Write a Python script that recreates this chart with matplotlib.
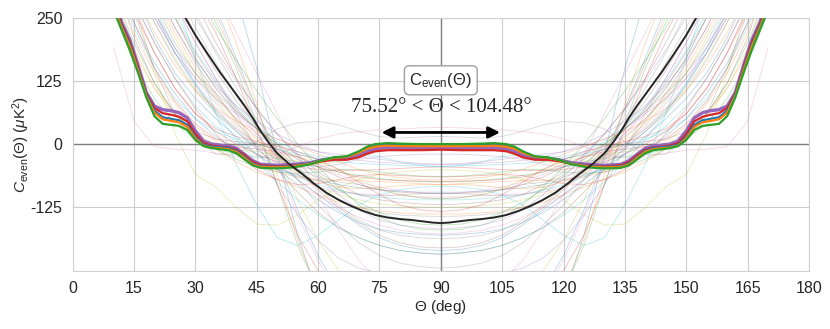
import numpy as np
import matplotlib
matplotlib.use("Agg")
import matplotlib.pyplot as plt
import seaborn as sns

sns.set_style("whitegrid")
plt.rcParams['font.family'] = ['Liberation Sans', 'DejaVu Sans']
plt.rcParams['mathtext.fontset'] = 'custom'
plt.rcParams['mathtext.rm'] = 'Liberation Sans'
plt.rcParams['mathtext.it'] = 'Liberation Sans:italic'
plt.rcParams['axes.unicode_minus'] = False

# angle grid for the highlighted curves (deg)
theta_c = [6, 8, 10, 12, 14, 16, 18, 20, 22, 24, 26, 28, 30, 32, 34, 36, 38, 40, 42, 44, 46,
           50, 54, 58, 61, 64, 67, 70, 72, 74, 77, 80, 85, 90, 95, 100, 103, 106, 108, 110,
           113, 116, 119, 122, 126, 130, 134, 136, 138, 140, 142, 144, 146, 148, 150, 152,
           154, 156, 158, 160, 162, 164, 166, 168, 170, 172, 174]

c_purple = [420, 350, 290, 240, 205, 155, 102, 75, 68, 66, 62, 52, 26, 6, 0, -2, -4, -8, -20, -33, -40,
            -42, -40, -37, -31, -28, -28, -22, -14, -9, -7, -8, -9, -8,
            -9, -8, -7, -9, -14, -22, -28, -28, -31, -37, -40, -42,
            -40, -33, -20, -8, -4, -2, 0, 6, 26, 52, 62, 66, 68, 75, 102, 155, 205, 240, 290, 350, 420]
c_red = [412, 345, 285, 236, 200, 151, 100, 71, 61, 58, 54, 45, 20, 2, -3, -5, -7, -11, -22, -35, -42,
         -44, -42, -39, -34, -31, -31, -26, -19, -14, -12, -12, -12, -11,
         -12, -12, -12, -14, -19, -26, -31, -31, -34, -39, -42, -44,
         -42, -35, -22, -11, -7, -5, -3, 2, 20, 45, 54, 58, 61, 71, 100, 151, 200, 236, 285, 345, 412]
c_blue = [405, 338, 278, 233, 196, 148, 98, 66, 53, 50, 47, 38, 14, -1, -5, -6, -8, -13, -25, -38, -44,
          -45, -43, -38, -31, -27, -25, -16, -7, -3, -2, -2, -2, -2,
          -2, -2, -2, -3, -7, -16, -25, -27, -31, -38, -43, -45,
          -44, -38, -25, -13, -8, -6, -5, -1, 14, 38, 47, 50, 53, 66, 98, 148, 196, 233, 278, 338, 405]
c_orange = [400, 330, 272, 230, 192, 145, 95, 62, 49, 46, 43, 34, 11, -3, -7, -8, -10, -15, -27, -40, -45,
            -46, -44, -39, -32, -27, -25, -17, -9, -5, -3, -4, -4, -4,
            -4, -4, -3, -5, -9, -17, -25, -27, -32, -39, -44, -46,
            -45, -40, -27, -15, -10, -8, -7, -3, 11, 34, 43, 46, 49, 62, 95, 145, 192, 230, 272, 330, 400]
c_green = [390, 320, 265, 225, 185, 140, 92, 55, 40, 38, 36, 28, 8, -4, -8, -10, -12, -18, -30, -42, -47,
           -48, -46, -40, -32, -26, -24, -14, -5, 0, 2, 1, 0, 0,
           0, 1, 2, 0, -5, -14, -24, -26, -32, -40, -46, -48,
           -47, -42, -30, -18, -12, -10, -8, -4, 8, 28, 36, 38, 40, 55, 92, 140, 185, 225, 265, 320, 390]

# black curve
theta_k = [25, 27.5, 30, 33, 36, 38, 40, 42, 44, 46, 48, 50, 53, 56, 59, 62, 65, 68, 71, 74, 77, 80,
           83, 86, 88, 90, 92, 94, 97, 100, 103, 106, 109, 112, 115, 118, 121, 124, 127, 130,
           132, 134, 136, 138, 140, 142, 144, 147, 150, 152.5, 155]
c_black = [290, 250, 215, 178, 142, 120, 98, 76, 52, 25, 2, -18, -40, -58, -78, -96, -110, -122, -132,
           -140, -145, -148, -150, -153, -155, -156, -155, -153, -150, -148, -145, -140, -132, -122,
           -110, -96, -78, -58, -40, -18, 2, 25, 52, 76, 98, 120, 142, 178, 215, 250, 290]

# thin realisations
theta_t = [10, 15, 20, 25, 30, 35, 40, 45, 50, 55, 60, 65, 70, 75, 80, 85, 90,
           95, 100, 105, 110, 115, 120, 125, 130, 135, 140, 145, 150, 155, 160, 165, 170]
thin_curves = [
    [190, 45, -5, -10, -12, -18, -25, -28, -20, -5, 10, 20, 25, 28, 30, 32, 33, 32, 30, 28, 25, 20, 10, -5, -20, -28, -25, -18, -12, -10, -5, 45, 190],
    [400, 260, 150, 60, 10, -20, -20, 5, 30, 42, 45, 38, 25, 15, 12, 14, 15, 14, 12, 15, 25, 38, 45, 42, 30, 5, -20, -20, 10, 60, 150, 260, 400],
    [420, 280, 140, 20, -60, -85, -125, -158, -160, -140, -110, -85, -70, -60, -55, -52, -50, -52, -55, -60, -70, -85, -110, -140, -160, -158, -125, -85, -60, 20, 140, 280, 420],
    [700, 560, 420, 290, 170, 60, -40, -120, -185, -200, -180, -150, -120, -100, -90, -85, -83, -85, -90, -100, -120, -150, -180, -200, -185, -120, -40, 60, 170, 290, 420, 560, 700],
    [900, 800, 700, 600, 500, 400, 290, 150, -20, -180, -300, -380, -420, -440, -450, -455, -455, -455, -450, -440, -420, -380, -300, -180, -20, 150, 290, 400, 500, 600, 700, 800, 900],
    [800, 700, 600, 500, 400, 300, 200, 80, -60, -190, -290, -350, -380, -395, -400, -402, -405, -402, -400, -395, -380, -350, -290, -190, -60, 80, 200, 300, 400, 500, 600, 700, 800],
    [700, 600, 500, 400, 320, 240, 150, 40, -80, -200, -290, -340, -370, -380, -385, -388, -390, -388, -385, -380, -370, -340, -290, -200, -80, 40, 150, 240, 320, 400, 500, 600, 700],
    [600, 520, 440, 360, 290, 220, 130, 30, -80, -180, -250, -290, -310, -320, -325, -328, -330, -328, -325, -320, -310, -290, -250, -180, -80, 30, 130, 220, 290, 360, 440, 520, 600],
    [550, 450, 360, 280, 200, 130, 60, -10, -80, -140, -190, -225, -245, -255, -262, -266, -268, -266, -262, -255, -245, -225, -190, -140, -80, -10, 60, 130, 200, 280, 360, 450, 550],
    [500, 400, 310, 230, 160, 100, 45, -5, -50, -95, -135, -165, -185, -200, -210, -215, -218, -215, -210, -200, -185, -165, -135, -95, -50, -5, 45, 100, 160, 230, 310, 400, 500],
    [450, 350, 260, 190, 130, 80, 35, 0, -35, -70, -100, -125, -145, -160, -170, -175, -178, -175, -170, -160, -145, -125, -100, -70, -35, 0, 35, 80, 130, 190, 260, 350, 450],
    [480, 370, 280, 200, 140, 90, 50, 15, -20, -55, -85, -110, -125, -135, -140, -142, -143, -142, -140, -135, -125, -110, -85, -55, -20, 15, 50, 90, 140, 200, 280, 370, 480],
    [420, 320, 240, 170, 110, 65, 30, 0, -30, -60, -85, -100, -110, -118, -122, -124, -125, -124, -122, -118, -110, -100, -85, -60, -30, 0, 30, 65, 110, 170, 240, 320, 420],
    [380, 280, 200, 130, 75, 35, 5, -20, -45, -65, -80, -92, -100, -105, -108, -110, -110, -110, -108, -105, -100, -92, -80, -65, -45, -20, 5, 35, 75, 130, 200, 280, 380],
    [340, 240, 160, 100, 50, 15, -15, -35, -50, -62, -72, -80, -86, -90, -93, -95, -95, -95, -93, -90, -86, -80, -72, -62, -50, -35, -15, 15, 50, 100, 160, 240, 340],
    [320, 220, 140, 80, 35, 5, -20, -40, -55, -65, -70, -72, -72, -74, -76, -78, -80, -78, -76, -74, -72, -72, -70, -65, -55, -40, -20, 5, 35, 80, 140, 220, 320],
    [300, 200, 120, 60, 20, -10, -30, -45, -55, -58, -55, -50, -50, -55, -60, -63, -64, -63, -60, -55, -50, -50, -55, -58, -55, -45, -30, -10, 20, 60, 120, 200, 300],
    [360, 260, 180, 110, 60, 25, 0, -20, -35, -45, -50, -52, -52, -50, -48, -46, -45, -46, -48, -50, -52, -52, -50, -45, -35, -20, 0, 25, 60, 110, 180, 260, 360],
    [420, 330, 250, 180, 120, 70, 30, 0, -25, -40, -45, -40, -30, -25, -22, -20, -20, -20, -22, -25, -30, -40, -45, -40, -25, 0, 30, 70, 120, 180, 250, 330, 420],
    [520, 420, 330, 250, 180, 120, 70, 30, 0, -20, -30, -28, -20, -12, -8, -5, -5, -5, -8, -12, -20, -28, -30, -20, 0, 30, 70, 120, 180, 250, 330, 420, 520],
    [600, 480, 370, 280, 200, 130, 70, 20, -25, -60, -85, -95, -98, -100, -102, -104, -105, -104, -102, -100, -98, -95, -85, -60, -25, 20, 70, 130, 200, 280, 370, 480, 600],
    [650, 540, 440, 350, 260, 180, 110, 50, 0, -45, -85, -120, -150, -170, -180, -185, -187, -185, -180, -170, -150, -120, -85, -45, 0, 50, 110, 180, 260, 350, 440, 540, 650],
    [750, 640, 530, 430, 340, 250, 160, 70, -20, -110, -190, -250, -290, -315, -330, -338, -340, -338, -330, -315, -290, -250, -190, -110, -20, 70, 160, 250, 340, 430, 530, 640, 750],
    [460, 360, 270, 190, 120, 60, 10, -35, -75, -110, -140, -165, -185, -200, -210, -215, -217, -215, -210, -200, -185, -165, -140, -110, -75, -35, 10, 60, 120, 190, 270, 360, 460],
    [400, 300, 210, 140, 90, 50, 15, -20, -50, -80, -110, -135, -155, -168, -175, -178, -180, -178, -175, -168, -155, -135, -110, -80, -50, -20, 15, 50, 90, 140, 210, 300, 400],
    [280, 180, 110, 60, 20, -10, -35, -55, -70, -85, -100, -115, -125, -132, -136, -138, -138, -138, -136, -132, -125, -115, -100, -85, -70, -55, -35, -10, 20, 60, 110, 180, 280],
    [260, 160, 90, 40, 10, -10, -20, -25, -28, -35, -45, -55, -62, -68, -72, -74, -75, -74, -72, -68, -62, -55, -45, -35, -28, -25, -20, -10, 10, 40, 90, 160, 260],
    [380, 280, 200, 130, 70, 20, -20, -50, -70, -80, -78, -70, -62, -60, -62, -64, -65, -64, -62, -60, -62, -70, -78, -80, -70, -50, -20, 20, 70, 130, 200, 280, 380],
    [450, 340, 250, 180, 130, 90, 60, 30, 10, -5, -15, -20, -25, -30, -35, -38, -40, -38, -35, -30, -25, -20, -15, -5, 10, 30, 60, 90, 130, 180, 250, 340, 450],
    [700, 580, 470, 370, 280, 200, 130, 70, 20, -20, -55, -80, -100, -110, -115, -118, -120, -118, -115, -110, -100, -80, -55, -20, 20, 70, 130, 200, 280, 370, 470, 580, 700],
    [550, 440, 340, 250, 170, 110, 60, 20, -10, -30, -45, -60, -75, -85, -92, -96, -98, -96, -92, -85, -75, -60, -45, -30, -10, 20, 60, 110, 170, 250, 340, 440, 550],
    [600, 500, 400, 310, 230, 160, 95, 35, -20, -70, -120, -160, -195, -220, -235, -242, -245, -242, -235, -220, -195, -160, -120, -70, -20, 35, 95, 160, 230, 310, 400, 500, 600],
    [480, 380, 290, 210, 140, 85, 40, 5, -20, -35, -40, -35, -25, -15, -8, -4, -3, -4, -8, -15, -25, -35, -40, -35, -20, 5, 40, 85, 140, 210, 290, 380, 480],
    [330, 230, 150, 90, 50, 25, 10, 0, -10, -20, -30, -35, -38, -40, -42, -43, -44, -43, -42, -40, -38, -35, -30, -20, -10, 0, 10, 25, 50, 90, 150, 230, 330],
    [850, 720, 600, 480, 370, 270, 170, 70, -30, -130, -220, -290, -340, -370, -385, -392, -395, -392, -385, -370, -340, -290, -220, -130, -30, 70, 170, 270, 370, 480, 600, 720, 850],
    [500, 400, 300, 220, 150, 95, 50, 10, -25, -55, -75, -85, -88, -86, -82, -80, -80, -80, -82, -86, -88, -85, -75, -55, -25, 10, 50, 95, 150, 220, 300, 400, 500],
    [600, 470, 350, 250, 170, 110, 65, 30, 0, -30, -60, -90, -115, -135, -150, -158, -160, -158, -150, -135, -115, -90, -60, -30, 0, 30, 65, 110, 170, 250, 350, 470, 600],
    [350, 240, 150, 85, 40, 10, -5, -10, -15, -25, -40, -55, -65, -70, -72, -73, -74, -73, -72, -70, -65, -55, -40, -25, -15, -10, -5, 10, 40, 85, 150, 240, 350],
    [520, 410, 310, 230, 165, 115, 75, 45, 20, 0, -15, -25, -32, -36, -38, -40, -40, -40, -38, -36, -32, -25, -15, 0, 20, 45, 75, 115, 165, 230, 310, 410, 520],
    [650, 520, 400, 300, 215, 145, 85, 35, -10, -50, -90, -125, -155, -180, -195, -203, -205, -203, -195, -180, -155, -125, -90, -50, -10, 35, 85, 145, 215, 300, 400, 520, 650],
    [900, 760, 620, 490, 370, 260, 160, 60, -40, -140, -230, -300, -350, -380, -395, -400, -402, -400, -395, -380, -350, -300, -230, -140, -40, 60, 160, 260, 370, 490, 620, 760, 900],
    [440, 330, 240, 165, 105, 60, 25, -5, -30, -50, -65, -75, -80, -90, -100, -106, -108, -106, -100, -90, -80, -75, -65, -50, -30, -5, 25, 60, 105, 165, 240, 330, 440],
    [300, 190, 110, 55, 20, 0, -10, -15, -20, -25, -35, -50, -70, -88, -100, -106, -108, -106, -100, -88, -70, -50, -35, -25, -20, -15, -10, 0, 20, 55, 110, 190, 300],
    [560, 450, 350, 260, 185, 125, 75, 35, 5, -15, -25, -25, -20, -25, -35, -42, -45, -42, -35, -25, -20, -25, -25, -15, 5, 35, 75, 125, 185, 260, 350, 450, 560],
    [480, 360, 260, 180, 115, 65, 25, -10, -40, -70, -100, -130, -160, -185, -200, -208, -210, -208, -200, -185, -160, -130, -100, -70, -40, -10, 25, 65, 115, 180, 260, 360, 480],
    [400, 300, 220, 155, 105, 70, 45, 25, 10, -5, -20, -35, -50, -60, -66, -70, -71, -70, -66, -60, -50, -35, -20, -5, 10, 25, 45, 70, 105, 155, 220, 300, 400],
    [700, 580, 470, 380, 300, 230, 165, 105, 50, 0, -45, -85, -120, -145, -160, -168, -170, -168, -160, -145, -120, -85, -45, 0, 50, 105, 165, 230, 300, 380, 470, 580, 700],
    [380, 270, 180, 110, 60, 30, 15, 5, -5, -15, -30, -50, -75, -100, -120, -130, -133, -130, -120, -100, -75, -50, -30, -15, -5, 5, 15, 30, 60, 110, 180, 270, 380],
    [620, 500, 400, 320, 250, 185, 125, 70, 20, -25, -65, -100, -130, -150, -160, -165, -167, -165, -160, -150, -130, -100, -65, -25, 20, 70, 125, 185, 250, 320, 400, 500, 620],
    [330, 210, 120, 60, 25, 10, 5, 0, -10, -25, -45, -65, -80, -90, -95, -97, -98, -97, -95, -90, -80, -65, -45, -25, -10, 0, 5, 10, 25, 60, 120, 210, 330],
    [800, 680, 570, 470, 380, 300, 220, 140, 60, -20, -100, -170, -230, -270, -295, -305, -308, -305, -295, -270, -230, -170, -100, -20, 60, 140, 220, 300, 380, 470, 570, 680, 800],
    [460, 350, 260, 190, 140, 100, 65, 30, -5, -40, -70, -90, -100, -102, -100, -98, -97, -98, -100, -102, -100, -90, -70, -40, -5, 30, 65, 100, 140, 190, 260, 350, 460],
]

x_ticks = [0, 15, 30, 45, 60, 75, 90, 105, 120, 135, 150, 165, 180]
y_ticks = [-125, 0, 125, 250]
range_lo, range_hi = 75.52, 104.48

fig = plt.figure(figsize=(8.3, 3.29), dpi=100)
ax = fig.add_axes([0.0876, 0.1772, 0.887, 0.7696])

palette = plt.get_cmap('tab10').colors
for i, vals in enumerate(thin_curves):
    ax.plot(theta_t, vals, color=palette[(i + 6) % 10], lw=0.6, alpha=0.3, zorder=2)

ax.axhline(0, color='#7f7f7f', lw=1.0, zorder=1.5)
ax.axvline(90, color='#7f7f7f', lw=1.0, zorder=1.5)

ax.plot(theta_c, c_purple, color='tab:purple', lw=2.4, zorder=4)
ax.plot(theta_c, c_red, color='tab:red', lw=1.6, zorder=4)
ax.plot(theta_c, c_blue, color='tab:blue', lw=1.6, zorder=4)
ax.plot(theta_c, c_orange, color='tab:orange', lw=1.6, zorder=4)
ax.plot(theta_c, c_green, color='tab:green', lw=1.6, zorder=4)
ax.plot(theta_k, c_black, color='#262626', lw=1.4, zorder=5)

ax.set_xlim(0, 180)
ax.set_ylim(-250, 250)
ax.set_xticks(x_ticks)
ax.set_yticks(y_ticks)
ax.tick_params(labelsize=11.5, colors='#262626', pad=4)
ax.set_xlabel(r'$\Theta$ (deg)', fontsize=11, labelpad=1)
ax.set_ylabel(r'$C_{\rm even}(\Theta)$ ($\mu$K$^2$)', fontsize=11, labelpad=-1)
for s in ax.spines.values():
    s.set_color('#d0d0d0')

ax.text(90, 126, r'C$_{\rm even}$($\Theta$)', fontsize=12, ha='center', va='center', zorder=6,
        bbox=dict(boxstyle='round,pad=0.3', fc='white', ec='#a0a0a0', lw=1))
ax.text(90, 72, '75.52° < Θ < 104.48°', fontsize=15, ha='center', va='center',
        family='Liberation Serif', zorder=6)
ax.annotate('', xy=(range_lo, 23), xytext=(range_hi, 23),
            arrowprops=dict(arrowstyle='<|-|>', color='black', lw=2, mutation_scale=17,
                            shrinkA=0, shrinkB=0), zorder=6)

fig.savefig('out.png', dpi=100)
